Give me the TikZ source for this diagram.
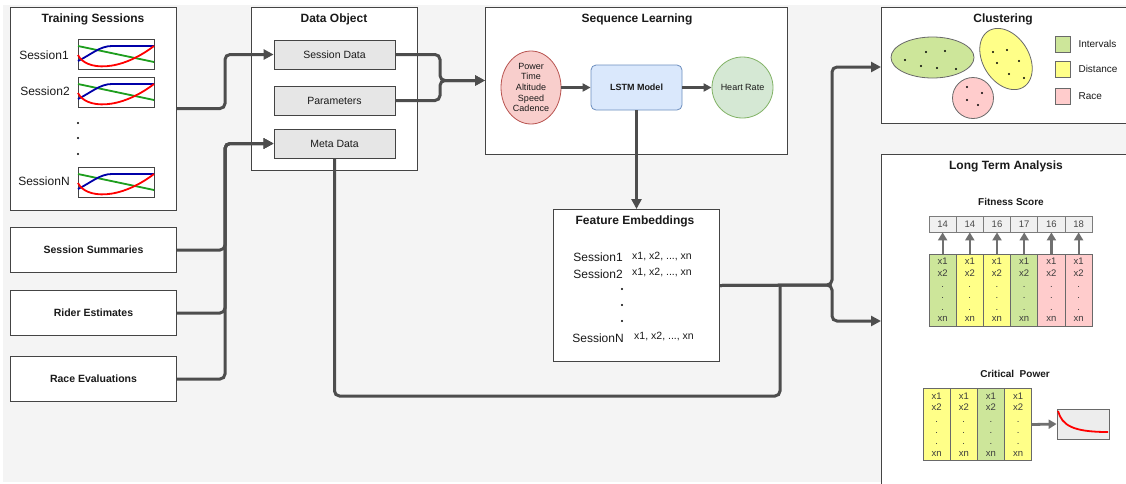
\documentclass[tikz,border=0pt]{standalone}
\usepackage{fontspec}
\setmainfont{Liberation Sans}
\usetikzlibrary{arrows.meta,shapes.geometric,calc}
\definecolor{bgc}{HTML}{F4F4F4}
\definecolor{bordc}{HTML}{444444}
\definecolor{linec}{HTML}{4D4D4D}
\definecolor{txt}{HTML}{1A1A1A}
\definecolor{boxgray}{HTML}{E6E6E6}
\definecolor{cgreen}{HTML}{CDE69A}
\definecolor{cyellow}{HTML}{FFFF88}
\definecolor{cpink}{HTML}{FFCCCC}
\definecolor{redfill}{HTML}{F8CECC}
\definecolor{redline}{HTML}{B85450}
\definecolor{bluefill}{HTML}{DAE8FC}
\definecolor{blueline}{HTML}{6C8EBF}
\definecolor{grnfill}{HTML}{D5E8D4}
\definecolor{grnline}{HTML}{82B366}
\definecolor{chblue}{HTML}{0000A8}
\definecolor{chgreen}{HTML}{1E9E1E}
\definecolor{farrc}{HTML}{707070}
\tikzset{
  panel/.style={draw=bordc, fill=white, line width=1pt, anchor=north west, inner sep=0pt},
  ttl/.style={font=\bfseries\fontsize{12}{14}\selectfont, text=txt},
  subttl/.style={font=\bfseries\fontsize{10}{12}\selectfont, text=txt},
  gbox/.style={draw=bordc, fill=boxgray, line width=0.8pt, minimum width=121, minimum height=29, font=\fontsize{10.5}{12}\selectfont, text=txt},
  lbox/.style={panel, minimum width=166, minimum height=45},
  lbl/.style={font=\bfseries\fontsize{10.5}{12}\selectfont, text=txt},
  sess/.style={font=\fontsize{12}{14}\selectfont, text=txt},
  vec/.style={font=\fontsize{10.5}{12}\selectfont, text=txt},
  conn/.style={draw=linec, line width=3pt, rounded corners=5pt},
  arr/.style={conn, -{Triangle[length=10pt,width=10pt]}},
  farr/.style={draw=farrc, line width=2.2pt, -{Triangle[length=8pt,width=9pt]}},
  numcell/.style={draw=bordc!70, fill=boxgray!60, line width=0.8pt, minimum width=27.2, minimum height=16, inner sep=0pt, font=\fontsize{9.5}{11}\selectfont, text=txt!80},
  colcell/.style={draw=bordc!80, line width=0.8pt, minimum width=27.2, minimum height=72, inner sep=0pt, align=center, font=\fontsize{9.5}{11.4}\selectfont, text=txt!85},
  dot/.style={fill=black, circle, inner sep=0pt, minimum size=2.6},
  legsq/.style={draw=bordc!80, line width=0.8pt, minimum width=15, minimum height=16, inner sep=0pt},
  legtx/.style={anchor=west, font=\fontsize{10}{12}\selectfont, text=txt},
  minichart/.pic={
    \draw[fill=white, draw=bordc, line width=0.8pt] (0,0) rectangle (76,30);
    \draw[chgreen, line width=1.8pt] (0,7) -- (76,23);
    \draw[chblue, line width=1.8pt] (0,22) .. controls (14,15) and (22,7) .. (34,7) -- (76,7);
    \draw[red, line width=1.8pt] (0,16) .. controls (8,32) and (42,33) .. (76,7);
  }
}
\begin{document}
\begin{tikzpicture}[x=1pt,y=-1pt]
\useasboundingbox (0,0) rectangle (1126,483);
\fill[bgc] (3,5) rectangle (1126,482);

% ---------- Training sessions ----------
\node[panel, minimum width=166, minimum height=203] (train) at (10,7) {};
\node[ttl] (traint) at (93,19) {Training Sessions};
\node[sess] (s1) at (44,55) {Session1};
\node[sess] (s2) at (45,91) {Session2};
\node[sess] (sn) at (44,181) {SessionN};
\pic at (78,39) {minichart};
\pic at (78,77) {minichart};
\pic at (78,167) {minichart};
\node[dot, minimum size=2.4] (td1) at (78,123) {};
\node[dot, minimum size=2.4] (td2) at (78,138) {};
\node[dot, minimum size=2.4] (td3) at (78,154) {};

% ---------- left boxes ----------
\node[lbox] (summ) at (10,227) {};
\node[lbl] at (summ.center) {Session Summaries};
\node[lbox] (rider) at (10,290) {};
\node[lbl] at (rider.center) {Rider Estimates};
\node[lbox] (race) at (10,356) {};
\node[lbl] at (race.center) {Race Evaluations};

% ---------- Data object ----------
\node[panel, minimum width=166, minimum height=163] (dobj) at (251,7) {};
\node[ttl] at (334,19) {Data Object};
\node[gbox] (sd) at (334.5,54.5) {Session Data};
\node[gbox] (par) at (334.5,100.5) {Parameters};
\node[gbox] (meta) at (334.5,143.5) {Meta Data};

% ---------- Sequence learning ----------
\node[panel, minimum width=302, minimum height=147] (seq) at (485,7) {};
\node[ttl] at (637,19) {Sequence Learning};
\node[ellipse, draw=redline, fill=redfill, line width=0.8pt, minimum width=60, minimum height=73, inner sep=0pt, align=center, font=\fontsize{9}{10.6}\selectfont, text=txt] (inp) at (531,87.5) {Power\\Time\\Altitude\\Speed\\Cadence};
\node[draw=blueline, fill=bluefill, line width=0.8pt, rounded corners=5pt, minimum width=91, minimum height=45, font=\bfseries\fontsize{9}{11}\selectfont, text=txt] (lstm) at (636.5,87.5) {LSTM Model};
\node[circle, draw=grnline, fill=grnfill, line width=0.8pt, minimum size=61, inner sep=0pt, font=\fontsize{9}{11}\selectfont, text=txt] (hr) at (742.5,87.5) {Heart Rate};
\draw[draw=linec, line width=2.5pt, -{Triangle[length=8pt,width=8pt]}] (inp.east) -- (lstm.west);
\draw[draw=linec, line width=2.5pt, -{Triangle[length=8pt,width=8pt]}] (lstm.east) -- (hr.west);

% ---------- Feature embeddings ----------
\node[panel, minimum width=166, minimum height=152] (fe) at (553,209) {};
\node[ttl] at (635,221) {Feature Embeddings};
\node[sess] (fs1) at (598,257) {Session1};
\node[vec] (fv1) at (662,256) {x1, x2, ..., xn};
\node[sess] (fs2) at (598,274) {Session2};
\node[vec] (fv2) at (662,272) {x1, x2, ..., xn};
\node[dot, minimum size=2.4] at (622,289) {};
\node[dot, minimum size=2.4] at (622,305) {};
\node[dot, minimum size=2.4] at (622,321) {};
\node[sess] (fsn) at (598,338) {SessionN};
\node[vec] (fvn) at (664,336) {x1, x2, ..., xn};

% ---------- Clustering ----------
\node[panel, minimum width=250, minimum height=116] (clust) at (881,7) {};
\node[ttl] at (1003,19) {Clustering};
\node[ellipse, draw=bordc!80, fill=cgreen, line width=0.8pt, minimum width=83, minimum height=41, inner sep=0pt] (eg) at (932.5,57.5) {};
\coordinate (ey) at (1006,59);
\draw[draw=bordc!80, fill=cyellow, line width=0.8pt] plot[domain=0:360, samples=90, variable=\t]
  ({1006 + 33*cos(\t)*0.53 + 23*sin(\t)*0.85}, {59 + 33*cos(\t)*0.85 - 23*sin(\t)*0.53}) -- cycle;
\node[circle, draw=bordc!80, fill=cpink, line width=0.8pt, minimum size=41, inner sep=0pt] (ep) at (973,98) {};
\foreach \p in {(905,60),(926,52),(945,51),(921,66),(937,68),(956,69),(993,52),(1007,50),(997,63),(1019,61),(1009,74),(1024,78),(967,87),(982,93),(967,100),(978,105)}
  \node[dot, minimum size=2.4] at \p {};
\node[legsq, fill=cgreen] (lg) at (1062.5,44) {};
\node[legtx] at (1075,44) {Intervals};
\node[legsq, fill=cyellow] (ly) at (1062.5,69) {};
\node[legtx] at (1075,69) {Distance};
\node[legsq, fill=cpink] (lp) at (1062.5,96) {};
\node[legtx] at (1075,96) {Race};

% ---------- Long term analysis ----------
\node[panel, minimum width=250, minimum height=340] (lta) at (881,154) {};
\node[ttl] at (1006,166) {Long Term Analysis};
\node[subttl] at (1011,202) {Fitness Score};
\foreach \i/\v/\c in {0/14/cgreen,1/14/cyellow,2/16/cyellow,3/17/cgreen,4/16/cpink,5/18/cpink} {
  \node[numcell] (n\i) at ({929+27.2*\i+13.6},224) {\v};
  \node[colcell, fill=\c] (c\i) at ({929+27.2*\i+13.6},290) {x1\\x2\\.\\.\\.\\xn};
  \draw[farr] (c\i.north) -- (n\i.south);
}
\node[subttl] at (1015,374) {Critical\ \ Power};
\foreach \i/\c in {0/cyellow,1/cyellow,2/cgreen,3/cyellow} {
  \node[colcell, fill=\c] (k\i) at ({923+27.2*\i+13.6},424.5) {x1\\x2\\.\\.\\.\\xn};
}
\node[draw=bordc!80, fill=boxgray!70, line width=0.8pt, minimum width=52, minimum height=30, inner sep=0pt] (cp) at (1083,424) {};
\draw[red, line width=1.8pt] (1058,411) .. controls (1062,425) and (1072,432) .. (1108,432);
\draw[farr, line width=2.8pt] (k3.east) -- (cp.west);

% ---------- connectors ----------
\coordinate (j1) at (225,108.5);
\draw[arr] (train.east |- j1) -- (j1) -- (j1 |- sd.west) -- (sd.west);
\coordinate (j2) at (225,143.5);
\draw[arr] (summ.east) -- (j2 |- summ.east) -- (j2) -- (meta.west);
\draw[arr] (rider.east) -- (j2 |- rider.east) -- (j2) -- (meta.west);
\draw[arr] (race.east) -- (j2 |- race.east) -- (j2) -- (meta.west);

\coordinate (j3) at (440,80.5);
\draw[arr] (sd.east) -- (j3 |- sd.east) -- (j3) -- (seq.west |- j3);
\draw[arr] (par.east) -- (j3 |- par.east) -- (j3) -- (seq.west |- j3);

\draw[arr] (lstm.south) -- (lstm.south |- fe.north);

\coordinate (j4) at (832,285);
\coordinate (j5) at (780,396);
\draw[conn] (meta.south) -- (meta.south |- j5) -- (j5) -- (j5 |- j4);
\draw[arr] (fe.east) -- (j4) -- (832,67) -- (clust.west |- 0,67);
\draw[arr] (fe.east) -- (j4) -- (832,321) -- (lta.west |- 0,321);
\end{tikzpicture}
\end{document}
